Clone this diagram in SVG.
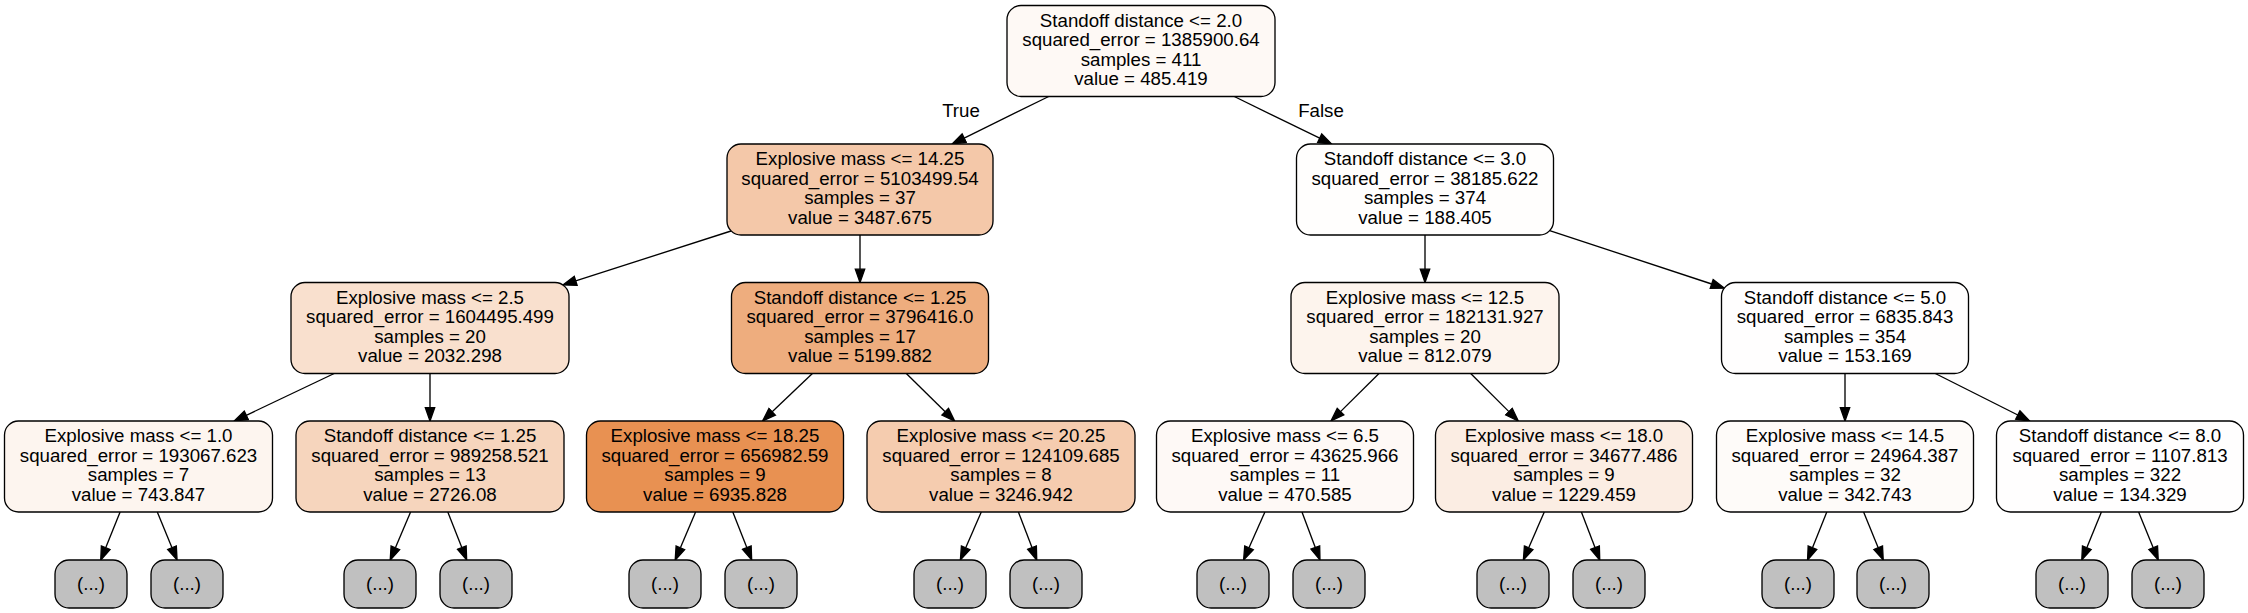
<svg xmlns="http://www.w3.org/2000/svg" width="2248" height="613" viewBox="0 0 2248 613">
<defs>
<style>
.n rect{stroke:#000;stroke-width:1.33}
.leaf rect{fill:#c0c0c0}
text{font-family:"Liberation Sans",Arial,Helvetica,sans-serif;font-size:18.7px;fill:#000;text-anchor:middle}
.edges line{stroke:#000;stroke-width:1.33;fill:none;marker-end:url(#ah)}
</style>
<marker id="ah" markerUnits="userSpaceOnUse" markerWidth="17" markerHeight="13" refX="1" refY="6.5" orient="auto">
<path d="M1,1.83 L14.3,6.5 L1,11.17 z" fill="#000" stroke="#000" stroke-width="1.33"/>
</marker>
</defs>
<rect width="2248" height="613" fill="#fff"/>
<g class="edges">
<line x1="1048.7" y1="96.5" x2="964.2" y2="138.1"/>
<line x1="1234.3" y1="96.5" x2="1319.7" y2="138.2"/>
<line x1="731" y1="231" x2="575.7" y2="280.9"/>
<line x1="860" y1="235" x2="860" y2="269.2"/>
<line x1="1425" y1="235" x2="1425" y2="269.2"/>
<line x1="1549.7" y1="230.6" x2="1711.7" y2="284"/>
<line x1="334.2" y1="373.5" x2="246.3" y2="415.3"/>
<line x1="430" y1="373.5" x2="430" y2="407.7"/>
<line x1="812.4" y1="373.5" x2="772.2" y2="411.8"/>
<line x1="906.3" y1="373.5" x2="945.2" y2="411.7"/>
<line x1="1379" y1="373.5" x2="1340.5" y2="411.6"/>
<line x1="1470.7" y1="373.5" x2="1508.9" y2="411.6"/>
<line x1="1845" y1="373.5" x2="1845" y2="407.7"/>
<line x1="1935.3" y1="373.5" x2="2017.8" y2="415"/>
<line x1="120.1" y1="512" x2="105.7" y2="547.7"/>
<line x1="157.3" y1="512" x2="172" y2="547.7"/>
<line x1="410.6" y1="512" x2="395.4" y2="547.8"/>
<line x1="447.8" y1="512" x2="461.8" y2="547.6"/>
<line x1="695.6" y1="512" x2="680.4" y2="547.8"/>
<line x1="732.8" y1="512" x2="746.8" y2="547.6"/>
<line x1="981.3" y1="512" x2="965.7" y2="547.8"/>
<line x1="1018.4" y1="512" x2="1032" y2="547.6"/>
<line x1="1264.9" y1="512" x2="1249" y2="547.8"/>
<line x1="1302" y1="512" x2="1315.3" y2="547.5"/>
<line x1="1544.3" y1="512" x2="1528.7" y2="547.8"/>
<line x1="1581.4" y1="512" x2="1595" y2="547.6"/>
<line x1="1826.8" y1="512" x2="1812.5" y2="547.7"/>
<line x1="1863.6" y1="512" x2="1878.2" y2="547.7"/>
<line x1="2101.4" y1="512" x2="2086.8" y2="547.7"/>
<line x1="2138.6" y1="512" x2="2153.2" y2="547.7"/>
<text x="961" y="117">True</text>
<text x="1321" y="117">False</text>
</g>
<g id="node0" class="n"><rect x="1007" y="5.5" width="268" height="91" rx="14" fill="#fef9f5"/>
<text x="1141" y="26.5">Standoff distance &lt;= 2.0</text><text x="1141" y="46">squared_error = 1385900.64</text><text x="1141" y="65.5">samples = 411</text><text x="1141" y="85">value = 485.419</text></g>
<g id="node1" class="n"><rect x="727" y="144" width="266" height="91" rx="14" fill="#f4c8a9"/>
<text x="860" y="165">Explosive mass &lt;= 14.25</text><text x="860" y="184.5">squared_error = 5103499.54</text><text x="860" y="204">samples = 37</text><text x="860" y="223.5">value = 3487.675</text></g>
<g id="node2" class="n"><rect x="1296.5" y="144" width="257" height="91" rx="14" fill="#fffefd"/>
<text x="1425" y="165">Standoff distance &lt;= 3.0</text><text x="1425" y="184.5">squared_error = 38185.622</text><text x="1425" y="204">samples = 374</text><text x="1425" y="223.5">value = 188.405</text></g>
<g id="node3" class="n"><rect x="291" y="282.5" width="278" height="91" rx="14" fill="#f9e0ce"/>
<text x="430" y="303.5">Explosive mass &lt;= 2.5</text><text x="430" y="323">squared_error = 1604495.499</text><text x="430" y="342.5">samples = 20</text><text x="430" y="362">value = 2032.298</text></g>
<g id="node4" class="n"><rect x="731.5" y="282.5" width="257" height="91" rx="14" fill="#eead7e"/>
<text x="860" y="303.5">Standoff distance &lt;= 1.25</text><text x="860" y="323">squared_error = 3796416.0</text><text x="860" y="342.5">samples = 17</text><text x="860" y="362">value = 5199.882</text></g>
<g id="node5" class="n"><rect x="1291" y="282.5" width="268" height="91" rx="14" fill="#fdf4ed"/>
<text x="1425" y="303.5">Explosive mass &lt;= 12.5</text><text x="1425" y="323">squared_error = 182131.927</text><text x="1425" y="342.5">samples = 20</text><text x="1425" y="362">value = 812.079</text></g>
<g id="node6" class="n"><rect x="1721.5" y="282.5" width="247" height="91" rx="14" fill="#fffefe"/>
<text x="1845" y="303.5">Standoff distance &lt;= 5.0</text><text x="1845" y="323">squared_error = 6835.843</text><text x="1845" y="342.5">samples = 354</text><text x="1845" y="362">value = 153.169</text></g>
<g id="node7" class="n"><rect x="4.5" y="421" width="268" height="91" rx="14" fill="#fdf5ef"/>
<text x="138.5" y="442">Explosive mass &lt;= 1.0</text><text x="138.5" y="461.5">squared_error = 193067.623</text><text x="138.5" y="481">samples = 7</text><text x="138.5" y="500.5">value = 743.847</text></g>
<g id="node8" class="n"><rect x="296" y="421" width="268" height="91" rx="14" fill="#f6d5bd"/>
<text x="430" y="442">Standoff distance &lt;= 1.25</text><text x="430" y="461.5">squared_error = 989258.521</text><text x="430" y="481">samples = 13</text><text x="430" y="500.5">value = 2726.08</text></g>
<g id="node9" class="n"><rect x="586.5" y="421" width="257" height="91" rx="14" fill="#e89152"/>
<text x="715" y="442">Explosive mass &lt;= 18.25</text><text x="715" y="461.5">squared_error = 656982.59</text><text x="715" y="481">samples = 9</text><text x="715" y="500.5">value = 6935.828</text></g>
<g id="node10" class="n"><rect x="867" y="421" width="268" height="91" rx="14" fill="#f5ccaf"/>
<text x="1001" y="442">Explosive mass &lt;= 20.25</text><text x="1001" y="461.5">squared_error = 124109.685</text><text x="1001" y="481">samples = 8</text><text x="1001" y="500.5">value = 3246.942</text></g>
<g id="node11" class="n"><rect x="1156.5" y="421" width="257" height="91" rx="14" fill="#fef9f6"/>
<text x="1285" y="442">Explosive mass &lt;= 6.5</text><text x="1285" y="461.5">squared_error = 43625.966</text><text x="1285" y="481">samples = 11</text><text x="1285" y="500.5">value = 470.585</text></g>
<g id="node12" class="n"><rect x="1435.5" y="421" width="257" height="91" rx="14" fill="#fbede3"/>
<text x="1564" y="442">Explosive mass &lt;= 18.0</text><text x="1564" y="461.5">squared_error = 34677.486</text><text x="1564" y="481">samples = 9</text><text x="1564" y="500.5">value = 1229.459</text></g>
<g id="node13" class="n"><rect x="1716.5" y="421" width="257" height="91" rx="14" fill="#fefbf9"/>
<text x="1845" y="442">Explosive mass &lt;= 14.5</text><text x="1845" y="461.5">squared_error = 24964.387</text><text x="1845" y="481">samples = 32</text><text x="1845" y="500.5">value = 342.743</text></g>
<g id="node14" class="n"><rect x="1996.5" y="421" width="247" height="91" rx="14" fill="#fffefe"/>
<text x="2120" y="442">Standoff distance &lt;= 8.0</text><text x="2120" y="461.5">squared_error = 1107.813</text><text x="2120" y="481">samples = 322</text><text x="2120" y="500.5">value = 134.329</text></g>
<g id="leaf1" class="n leaf"><rect x="55" y="560" width="72" height="48" rx="14"/><text x="91" y="590">(...)</text></g>
<g id="leaf2" class="n leaf"><rect x="151" y="560" width="72" height="48" rx="14"/><text x="187" y="590">(...)</text></g>
<g id="leaf3" class="n leaf"><rect x="344" y="560" width="72" height="48" rx="14"/><text x="380" y="590">(...)</text></g>
<g id="leaf4" class="n leaf"><rect x="440" y="560" width="72" height="48" rx="14"/><text x="476" y="590">(...)</text></g>
<g id="leaf5" class="n leaf"><rect x="629" y="560" width="72" height="48" rx="14"/><text x="665" y="590">(...)</text></g>
<g id="leaf6" class="n leaf"><rect x="725" y="560" width="72" height="48" rx="14"/><text x="761" y="590">(...)</text></g>
<g id="leaf7" class="n leaf"><rect x="914" y="560" width="72" height="48" rx="14"/><text x="950" y="590">(...)</text></g>
<g id="leaf8" class="n leaf"><rect x="1010" y="560" width="72" height="48" rx="14"/><text x="1046" y="590">(...)</text></g>
<g id="leaf9" class="n leaf"><rect x="1197" y="560" width="72" height="48" rx="14"/><text x="1233" y="590">(...)</text></g>
<g id="leaf10" class="n leaf"><rect x="1293" y="560" width="72" height="48" rx="14"/><text x="1329" y="590">(...)</text></g>
<g id="leaf11" class="n leaf"><rect x="1477" y="560" width="72" height="48" rx="14"/><text x="1513" y="590">(...)</text></g>
<g id="leaf12" class="n leaf"><rect x="1573" y="560" width="72" height="48" rx="14"/><text x="1609" y="590">(...)</text></g>
<g id="leaf13" class="n leaf"><rect x="1762" y="560" width="72" height="48" rx="14"/><text x="1798" y="590">(...)</text></g>
<g id="leaf14" class="n leaf"><rect x="1857" y="560" width="72" height="48" rx="14"/><text x="1893" y="590">(...)</text></g>
<g id="leaf15" class="n leaf"><rect x="2036" y="560" width="72" height="48" rx="14"/><text x="2072" y="590">(...)</text></g>
<g id="leaf16" class="n leaf"><rect x="2132" y="560" width="72" height="48" rx="14"/><text x="2168" y="590">(...)</text></g>
</svg>
